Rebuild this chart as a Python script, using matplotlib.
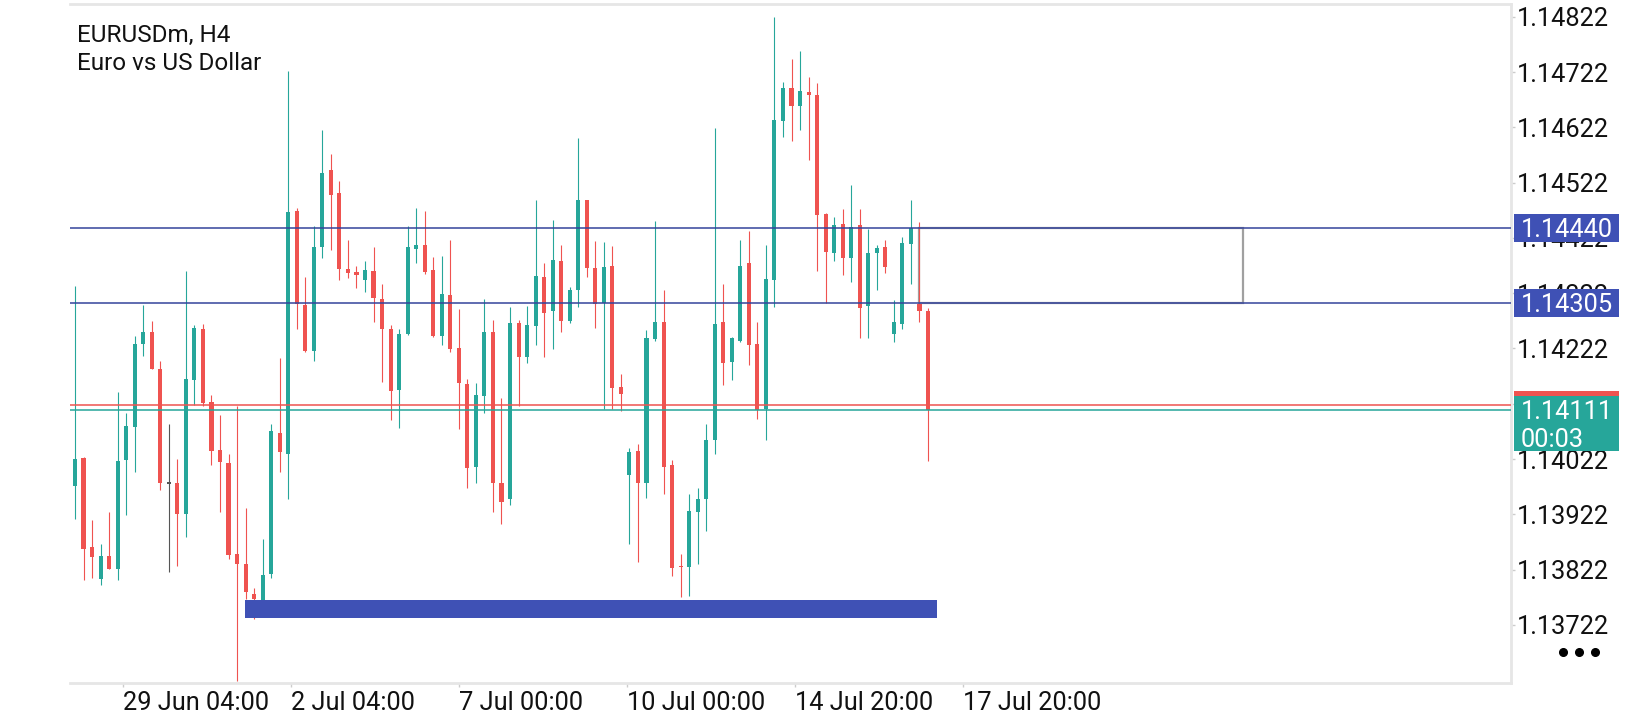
import matplotlib
matplotlib.use("Agg")
import matplotlib.pyplot as plt
import matplotlib.transforms as mtransforms
from matplotlib.patches import Rectangle
from matplotlib.lines import Line2D

plt.rcParams['font.family'] = ['Roboto', 'DejaVu Sans']

# -----------------------------
# EURUSDm H4 candles
# -----------------------------
opens = [1.13974, 1.14024, 1.13863, 1.13805, 1.13847, 1.13824, 1.14020, 1.14080, 1.14231, 1.14251,
         1.14184, 1.13979, 1.13979, 1.13923, 1.14165, 1.14258, 1.14126, 1.14038, 1.14014, 1.13851,
         1.13832, 1.13778, 1.13765, 1.13815, 1.14070, 1.14032, 1.14470, 1.14301, 1.14217, 1.14406,
         1.14544, 1.14503, 1.14365, 1.14360, 1.14345, 1.14362, 1.14311, 1.14258, 1.14147, 1.14249,
         1.14402, 1.14409, 1.14364, 1.14245, 1.14319, 1.14223, 1.14157, 1.14008, 1.14136, 1.14252,
         1.13979, 1.13950, 1.14268, 1.14207, 1.14263, 1.14352, 1.14290, 1.14380, 1.14271, 1.14327,
         1.14490, 1.14368, 1.14305, 1.14371, 1.14152, 1.13993, 1.14036, 1.13979, 1.14239, 1.14269,
         1.14011, 1.13829, 1.13827, 1.13927, 1.13950, 1.14057, 1.14269, 1.14197, 1.14235, 1.14376,
         1.14231, 1.14113, 1.14345, 1.14633, 1.14693, 1.14660, 1.14686, 1.14680, 1.14465, 1.14395,
         1.14448, 1.14386, 1.14446, 1.14298, 1.14395, 1.14406, 1.14249, 1.14267, 1.14411, 1.14302,
         1.14290]
highs = [1.14335, 1.14026, 1.13911, 1.13868, 1.13926, 1.14144, 1.14106, 1.14245, 1.14301, 1.14271,
         1.14199, 1.14086, 1.14022, 1.14363, 1.14265, 1.14266, 1.14138, 1.14102, 1.14032, 1.14118,
         1.13934, 1.13789, 1.13877, 1.14085, 1.14205, 1.14723, 1.14476, 1.14352, 1.14443, 1.14617,
         1.14573, 1.14524, 1.14418, 1.14372, 1.14380, 1.14406, 1.14338, 1.14265, 1.14257, 1.14443,
         1.14476, 1.14471, 1.14387, 1.14389, 1.14418, 1.14294, 1.14167, 1.14160, 1.14311, 1.14273,
         1.14132, 1.14297, 1.14274, 1.14299, 1.14491, 1.14376, 1.14454, 1.14409, 1.14333, 1.14603,
         1.14490, 1.14416, 1.14414, 1.14408, 1.14176, 1.14042, 1.14049, 1.14256, 1.14453, 1.14327,
         1.14020, 1.13851, 1.13959, 1.13970, 1.14086, 1.14621, 1.14339, 1.14243, 1.14418, 1.14434,
         1.14269, 1.14409, 1.14821, 1.14704, 1.14745, 1.14760, 1.14713, 1.14702, 1.14467, 1.14459,
         1.14475, 1.14517, 1.14474, 1.14438, 1.14409, 1.14418, 1.14309, 1.14424, 1.14491, 1.14450,
         1.14295]
lows = [1.13913, 1.13803, 1.13807, 1.13795, 1.13824, 1.13803, 1.13920, 1.13999, 1.14208, 1.14184,
        1.13966, 1.13817, 1.13829, 1.13881, 1.14120, 1.14118, 1.14012, 1.13926, 1.13841, 1.13620,
        1.13769, 1.13733, 1.13755, 1.13807, 1.13998, 1.13950, 1.14258, 1.14215, 1.14200, 1.14385,
        1.14400, 1.14345, 1.14350, 1.14331, 1.14324, 1.14270, 1.14161, 1.14093, 1.14078, 1.14247,
        1.14377, 1.14356, 1.14243, 1.14229, 1.14215, 1.14077, 1.13970, 1.13979, 1.14105, 1.13927,
        1.13905, 1.13939, 1.14118, 1.14196, 1.14229, 1.14207, 1.14221, 1.14251, 1.14268, 1.14297,
        1.14352, 1.14259, 1.14112, 1.14112, 1.14109, 1.13868, 1.13835, 1.13951, 1.14235, 1.13959,
        1.13811, 1.13772, 1.13775, 1.13833, 1.13892, 1.14032, 1.14156, 1.14165, 1.14233, 1.14193,
        1.14094, 1.14057, 1.14297, 1.14605, 1.14598, 1.14618, 1.14563, 1.14363, 1.14305, 1.14381,
        1.14354, 1.14342, 1.14241, 1.14241, 1.14327, 1.14358, 1.14233, 1.14258, 1.14338, 1.14270,
        1.14018]
closes = [1.14022, 1.13859, 1.13845, 1.13847, 1.13824, 1.14018, 1.14081, 1.14231, 1.14251, 1.14184,
          1.13978, 1.13979, 1.13923, 1.14166, 1.14259, 1.14124, 1.14036, 1.14016, 1.13848, 1.13832,
          1.13781, 1.13769, 1.13813, 1.14072, 1.14034, 1.14468, 1.14303, 1.14218, 1.14405, 1.14540,
          1.14499, 1.14366, 1.14359, 1.14354, 1.14364, 1.14313, 1.14258, 1.14145, 1.14249, 1.14405,
          1.14409, 1.14361, 1.14245, 1.14320, 1.14221, 1.14160, 1.14006, 1.14137, 1.14252, 1.13978,
          1.13945, 1.14268, 1.14207, 1.14265, 1.14353, 1.14287, 1.14382, 1.14271, 1.14327, 1.14491,
          1.14368, 1.14302, 1.14369, 1.14151, 1.14139, 1.14034, 1.13979, 1.14241, 1.14269, 1.14008,
          1.13825, 1.13826, 1.13928, 1.13950, 1.14057, 1.14266, 1.14196, 1.14241, 1.14372, 1.14229,
          1.14110, 1.14348, 1.14635, 1.14693, 1.14660, 1.14688, 1.14680, 1.14463, 1.14397, 1.14446,
          1.14385, 1.14442, 1.14295, 1.14394, 1.14403, 1.14369, 1.14269, 1.14413, 1.14439, 1.14290,
          1.14111]

x_tick_pos = [5.63, 25.32, 45.02, 64.71, 84.41, 104.1]
x_tick_labels = ["29 Jun 04:00", "2 Jul 04:00", "7 Jul 00:00", "10 Jul 00:00", "14 Jul 20:00", "17 Jul 20:00"]
y_ticks = [1.13722, 1.13822, 1.13922, 1.14022, 1.14122, 1.14222,
           1.14322, 1.14422, 1.14522, 1.14622, 1.14722, 1.14822]
hidden_ticks = [1.14122]   # fully covered by the bid label in the original

levels = [1.14440, 1.14305]          # horizontal lines (blue)
bid, ask = 1.14111, 1.14119
timer = "00:03"
zone = (19.93, 101.05, 1.13734, 1.13767)    # bar from, bar to, low, high (blue zone)
box = (98.9, 136.9, 1.14305, 1.14440)       # gray rectangle

BULL = "#26a69a"
BEAR = "#ef5350"
DOJI = "#555555"
LEVEL = "#34449b"
LABEL_BLUE = "#3f51b5"
FRAME = "#e6e6e6"
FS = 18.3

W, H = 1640, 720
fig = plt.figure(figsize=(W / 100, H / 100), dpi=100)
ax_l, ax_r, ax_t, ax_b = 70, 1511, 4, 683
ax = fig.add_axes([ax_l / W, 1 - ax_b / H, (ax_r - ax_l) / W, (ax_b - ax_t) / H])
ymin, ymax = 1.13617, 1.14845
ax.set_xlim(-0.586, 168.35)
ax.set_ylim(ymin, ymax)
px = (ymax - ymin) / (ax_b - ax_t)   # price per pixel

# candles
for i in range(len(opens)):
    o, h, l, c = opens[i], highs[i], lows[i], closes[i]
    col = BULL if c > o else (BEAR if c < o else DOJI)
    ax.vlines(i, l, h, color=col, lw=0.8, zorder=3)
    hgt = max(abs(c - o), 1.6 * px)
    bottom = min(o, c) if abs(c - o) > 1.6 * px else (o + c) / 2 - hgt / 2
    ax.bar(i, hgt, bottom=bottom, width=0.48 if col != DOJI else 0.4,
           color=col, lw=0, zorder=3)

# gray rectangle
ax.add_patch(Rectangle((box[0], box[2]), box[1] - box[0], box[3] - box[2],
                       fill=False, ec="#a0a0a0", lw=1.6, zorder=2))
# level lines
for lv in levels:
    ax.axhline(lv, color=LEVEL, lw=1.1, zorder=4)
ax.axhline(ask, color=BEAR, lw=1.1, zorder=4)
ax.axhline(bid, color=BULL, lw=1.1, zorder=4)

# blue zone
ax.add_patch(Rectangle((zone[0], zone[2]), zone[1] - zone[0], zone[3] - zone[2],
                       fc=LABEL_BLUE, ec="none", zorder=5))

# axes styling
ax.spines["left"].set_visible(False)
for s in ("top", "right", "bottom"):
    ax.spines[s].set_color(FRAME)
    ax.spines[s].set_linewidth(2.0)
ax.yaxis.tick_right()
ax.set_yticks(y_ticks)
ax.set_yticklabels(["" if v in hidden_ticks else f"{v:.5f}" for v in y_ticks])
ax.tick_params(axis="y", length=3, width=1, color="#cccccc", pad=1.5,
               labelsize=FS, labelcolor="#111111")
ax.set_xticks(x_tick_pos)
ax.set_xticklabels(x_tick_labels, ha="left")
ax.tick_params(axis="x", length=3, width=1, color="#cccccc", pad=3,
               labelsize=FS, labelcolor="#111111")

# price labels on the scale
tr = mtransforms.blended_transform_factory(ax.transAxes, ax.transData)
bx0 = (1514 - ax_l) / (ax_r - ax_l)
bw = 105 / (ax_r - ax_l)
tx = (1521 - ax_l) / (ax_r - ax_l)
for lv in levels:
    ax.add_patch(Rectangle((bx0, lv - 14 * px), bw, 28 * px, transform=tr,
                           fc=LABEL_BLUE, ec="none", clip_on=False, zorder=6))
    ax.text(tx, lv, f"{lv:.5f}", transform=tr, color="white", fontsize=FS,
            va="center_baseline", ha="left", clip_on=False, zorder=7)
ax.add_patch(Rectangle((bx0, ask - 41.5 * px), bw, 55.5 * px, transform=tr,
                       fc=BEAR, ec="none", clip_on=False, zorder=6))
ax.add_patch(Rectangle((bx0, bid - 41.5 * px), bw, 55.5 * px, transform=tr,
                       fc=BULL, ec="none", clip_on=False, zorder=6))
ax.text(tx, bid, f"{bid:.5f}", transform=tr, color="white", fontsize=FS,
        va="center_baseline", ha="left", clip_on=False, zorder=7)
ax.text(tx, bid - 28 * px, timer, transform=tr, color="white", fontsize=FS,
        va="center_baseline", ha="left", clip_on=False, zorder=7)

# header
fig.text(77 / W, 1 - 24 / H, "EURUSDm, H4", fontsize=17.5, color="#111111", va="top")
fig.text(77 / W, 1 - 52 / H, "Euro vs US Dollar", fontsize=17.5, color="#111111", va="top")

# menu dots
fig.add_artist(Line2D([1563 / W, 1579 / W, 1595 / W], [1 - 652 / H] * 3, transform=fig.transFigure,
                      ls="none", marker="o", ms=5.5, color="black"))

fig.savefig("out.png", dpi=100)
